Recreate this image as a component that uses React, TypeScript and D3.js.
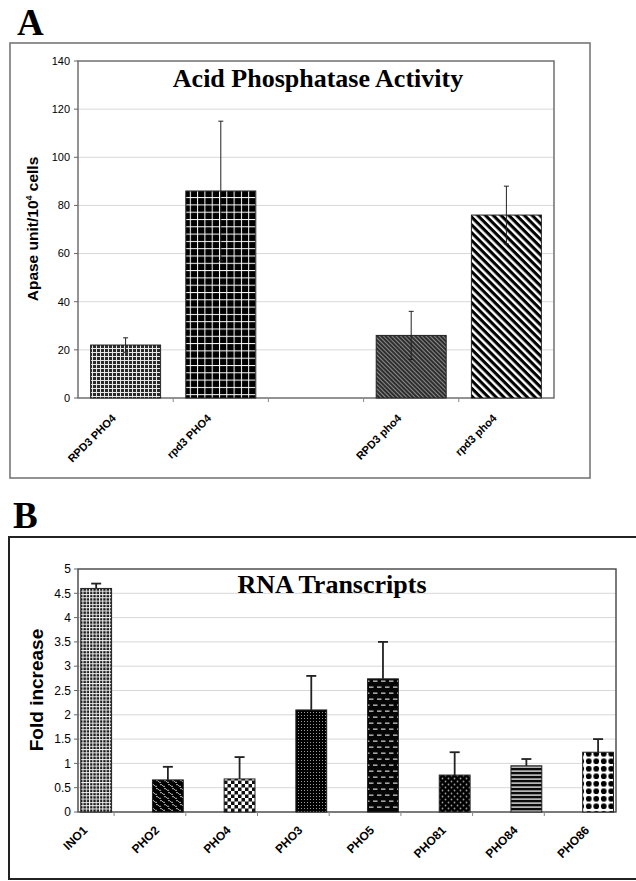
import React from "react";
import * as d3 from "d3";

// ---------- Data ----------
const aCategories = ["RPD3 PHO4", "rpd3 PHO4", "", "RPD3 pho4", "rpd3 pho4"];
const aValues: (number | null)[] = [22, 86, null, 26, 76];
const aErrors: (number | null)[] = [3, 29, null, 10, 12];
const aPatterns = ["aGridSmall", "aGridBig", "", "aDiagDense", "aDiagWide"];
const aTicks = [0, 20, 40, 60, 80, 100, 120, 140];

const bCategories = ["INO1", "PHO2", "PHO4", "PHO3", "PHO5", "PHO81", "PHO84", "PHO86"];
const bValues = [4.6, 0.66, 0.68, 2.1, 2.74, 0.76, 0.95, 1.23];
const bErrors = [0.1, 0.27, 0.45, 0.7, 0.76, 0.47, 0.14, 0.27];
const bPatterns = ["bGrid", "bWeave", "bChecker", "bDots", "bDashes", "bDotsSparse", "bStripes", "bCircles"];
const bTicks = [0, 0.5, 1, 1.5, 2, 2.5, 3, 3.5, 4, 4.5, 5];

const SANS = "'Liberation Sans', Arial, sans-serif";
const SERIF = "'Liberation Serif', 'Times New Roman', serif";

function Patterns() {
  return (
    <defs>
      <pattern id="aGridSmall" width={4} height={4} patternUnits="userSpaceOnUse">
        <rect width={4} height={4} fill="#2a2a2a" />
        <rect width={4} height={1} fill="#e8e8e8" />
        <rect width={1} height={4} fill="#e8e8e8" />
      </pattern>
      <pattern id="aGridBig" width={7.3} height={7.3} patternUnits="userSpaceOnUse">
        <rect width={7.3} height={7.3} fill="#000" />
        <rect width={7.3} height={1} fill="#fff" />
        <rect width={1} height={7.3} fill="#fff" />
      </pattern>
      <pattern id="aDiagDense" width={3} height={3} patternUnits="userSpaceOnUse" patternTransform="rotate(-45)">
        <rect width={3} height={3} fill="#2e2e2e" />
        <rect width={1} height={3} fill="#8a8a8a" />
      </pattern>
      <pattern id="aDiagWide" width={5.5} height={5.5} patternUnits="userSpaceOnUse" patternTransform="rotate(-45)">
        <rect width={5.5} height={5.5} fill="#000" />
        <rect width={2.4} height={5.5} fill="#fff" />
      </pattern>
      <pattern id="bGrid" width={3.3} height={3.3} patternUnits="userSpaceOnUse">
        <rect width={3.3} height={3.3} fill="#1a1a1a" />
        <rect width={3.3} height={1} fill="#f0f0f0" />
        <rect width={1} height={3.3} fill="#f0f0f0" />
      </pattern>
      <pattern id="bWeave" width={8} height={8} patternUnits="userSpaceOnUse">
        <rect width={8} height={8} fill="#000" />
        <path d="M0,1 C2,-1 3,4 5,2 M4,5 C6,3 7,8 9,6 M-4,5 C-2,3 -1,8 1,6" stroke="#ddd" strokeWidth={1} fill="none" />
      </pattern>
      <pattern id="bChecker" width={7} height={7} patternUnits="userSpaceOnUse">
        <rect width={7} height={7} fill="#111" />
        <rect x={0} y={0} width={3.5} height={3.5} fill="#fff" />
        <rect x={3.5} y={3.5} width={3.5} height={3.5} fill="#fff" />
      </pattern>
      <pattern id="bDots" width={3} height={3} patternUnits="userSpaceOnUse">
        <rect width={3} height={3} fill="#000" />
        <rect x={1} y={1} width={1} height={1} fill="#9a9a9a" />
      </pattern>
      <pattern id="bDashes" width={8} height={12} patternUnits="userSpaceOnUse">
        <rect width={8} height={12} fill="#050505" />
        <rect x={1} y={2.5} width={4.5} height={1.3} fill="#c8c8c8" />
        <rect x={5} y={8.5} width={4.5} height={1.3} fill="#c8c8c8" />
        <rect x={-3} y={8.5} width={4.5} height={1.3} fill="#c8c8c8" />
      </pattern>
      <pattern id="bDotsSparse" width={6} height={6} patternUnits="userSpaceOnUse">
        <rect width={6} height={6} fill="#000" />
        <circle cx={1.5} cy={1.5} r={0.9} fill="#9a9a9a" />
        <circle cx={4.5} cy={4.5} r={0.9} fill="#9a9a9a" />
      </pattern>
      <pattern id="bStripes" width={4} height={4} patternUnits="userSpaceOnUse">
        <rect width={4} height={4} fill="#0a0a0a" />
        <rect y={2.4} width={4} height={1.4} fill="#e0e0e0" />
      </pattern>
      <pattern id="bCircles" width={7.5} height={7.5} patternUnits="userSpaceOnUse">
        <rect width={7.5} height={7.5} fill="#fff" />
        <circle cx={3.75} cy={3.75} r={2.9} fill="#000" />
      </pattern>
    </defs>
  );
}

function PanelA() {
  const left = 78, right = 554, top = 61, bottom = 398;
  const y = d3.scaleLinear().domain([0, 140]).range([bottom, top]);
  const x = d3.scaleBand<string>().domain(aCategories.map((c, i) => String(i))).range([left, right]);
  const bw = x.bandwidth() * 0.735;
  return (
    <g>
      <text x={17} y={35} fontFamily={SERIF} fontWeight="bold" fontSize={37}>A</text>
      <rect x={10} y={43} width={580} height={435} fill="none" stroke="#777" strokeWidth={1.6} />
      {aTicks.slice(1, -1).map((t) => (
        <line key={t} x1={left} x2={right} y1={y(t)} y2={y(t)} stroke="#d8d8d8" strokeWidth={1} />
      ))}
      <rect x={left} y={top} width={right - left} height={bottom - top} fill="none" stroke="#666" strokeWidth={1.4} />
      {aTicks.map((t) => (
        <g key={t}>
          <line x1={left - 4} x2={left} y1={y(t)} y2={y(t)} stroke="#666" />
          <text x={left - 8} y={y(t) + 3.8} textAnchor="end" fontFamily={SANS} fontSize={11}>{t}</text>
        </g>
      ))}
      {aCategories.slice(1).map((c, i) => (
        <line key={"tk" + i} x1={x(String(i + 1))!} x2={x(String(i + 1))!} y1={bottom} y2={bottom + 4} stroke="#888" />
      ))}
      {aValues.map((v, i) => {
        if (v == null) return null;
        const cx = x(String(i))! + x.bandwidth() / 2;
        const e = aErrors[i]!;
        return (
          <g key={i}>
            <rect x={cx - bw / 2} y={y(v)} width={bw} height={bottom - y(v)} fill={`url(#${aPatterns[i]})`} stroke="#222" strokeWidth={1} />
            <line x1={cx} x2={cx} y1={y(v + e)} y2={y(v - e)} stroke="#222" strokeWidth={1} />
            <line x1={cx - 2.5} x2={cx + 2.5} y1={y(v + e)} y2={y(v + e)} stroke="#222" strokeWidth={1} />
            <line x1={cx - 2.5} x2={cx + 2.5} y1={y(v - e)} y2={y(v - e)} stroke="#222" strokeWidth={1} />
          </g>
        );
      })}
      {aCategories.map((c, i) => {
        if (!c) return null;
        const cx = x(String(i))! + x.bandwidth() / 2;
        return (
          <text key={"l" + i} transform={`translate(${cx - 9},${bottom + 21}) rotate(-45)`} textAnchor="end"
            fontFamily={SANS} fontWeight="bold" fontSize={11}>{c}</text>
        );
      })}
      <text transform={`translate(38,229) rotate(-90)`} textAnchor="middle" fontFamily={SANS} fontWeight="bold" fontSize={15.5}>
        Apase unit/10<tspan dy={-6} fontSize={9}>4</tspan><tspan dy={6}> cells</tspan>
      </text>
      <text x={318} y={87} textAnchor="middle" fontFamily={SERIF} fontWeight="bold" fontSize={26}>Acid Phosphatase Activity</text>
    </g>
  );
}

function PanelB() {
  const left = 78, right = 616, top = 569, bottom = 812;
  const y = d3.scaleLinear().domain([0, 5]).range([bottom, top]);
  const step = 71.7;
  const x = d3.scaleBand<string>().domain(bCategories).range([right - step * bCategories.length, right]);
  const bw = x.bandwidth() * 0.43;
  const off = x.bandwidth() * 0.535;
  return (
    <g>
      <text x={13} y={528} fontFamily={SERIF} fontWeight="bold" fontSize={37}>B</text>
      <rect x={9} y={537} width={640} height={342} fill="none" stroke="#222" strokeWidth={2} />
      {bTicks.slice(1, -1).map((t) => (
        <line key={t} x1={left} x2={right} y1={y(t)} y2={y(t)} stroke="#d8d8d8" strokeWidth={1} />
      ))}
      <rect x={left} y={top} width={right - left} height={bottom - top} fill="none" stroke="#444" strokeWidth={1.4} />
      {bTicks.map((t) => (
        <g key={t}>
          <line x1={left - 4} x2={left} y1={y(t)} y2={y(t)} stroke="#666" />
          <text x={left - 7} y={y(t) + 4.2} textAnchor="end" fontFamily={SANS} fontSize={12}>{t}</text>
        </g>
      ))}
      {bCategories.slice(1).map((c) => (
        <line key={"tk" + c} x1={x(c)!} x2={x(c)!} y1={bottom} y2={bottom + 4} stroke="#888" />
      ))}
      {bValues.map((v, i) => {
        const c = bCategories[i];
        const x0 = x(c)! + off;
        const cx = x0 + bw / 2;
        const e = bErrors[i];
        return (
          <g key={c}>
            <rect x={x0} y={y(v)} width={bw} height={bottom - y(v)} fill={`url(#${bPatterns[i]})`} stroke="#222" strokeWidth={1} />
            <line x1={cx} x2={cx} y1={y(v + e)} y2={y(v)} stroke="#222" strokeWidth={1.8} />
            <line x1={cx - 5} x2={cx + 5} y1={y(v + e)} y2={y(v + e)} stroke="#222" strokeWidth={1.8} />
          </g>
        );
      })}
      {bCategories.map((c) => {
        const cx = x(c)! + off + bw / 2;
        return (
          <text key={"l" + c} transform={`translate(${cx - 8},${bottom + 19}) rotate(-45)`} textAnchor="end"
            fontFamily={SANS} fontWeight="bold" fontSize={12}>{c}</text>
        );
      })}
      <text transform={`translate(43,690) rotate(-90)`} textAnchor="middle" fontFamily={SANS} fontWeight="bold" fontSize={19}>Fold increase</text>
      <text x={332} y={593} textAnchor="middle" fontFamily={SERIF} fontWeight="bold" fontSize={26}>RNA Transcripts</text>
    </g>
  );
}

export default function App() {
  return (
    <svg width={636} height={881} style={{ position: "absolute", left: 0, top: 0, background: "#fff" }}>
      <rect width={636} height={881} fill="#fff" />
      <Patterns />
      <PanelA />
      <PanelB />
    </svg>
  );
}
